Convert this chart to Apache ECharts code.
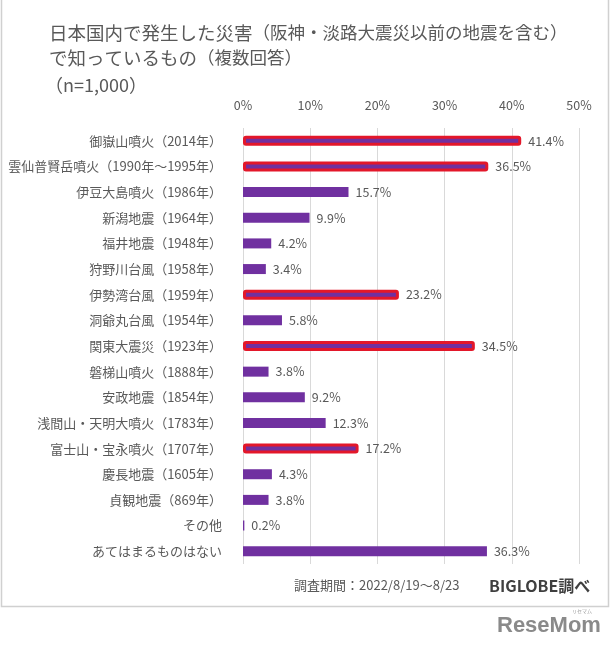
<!DOCTYPE html>
<html><head><meta charset="utf-8">
<script src="https://cdn.jsdelivr.net/npm/echarts@6/dist/echarts.min.js"></script>
<style>html,body{margin:0;padding:0;background:#fff}#c{width:610px;height:650px}</style>
</head><body><div id="c"></div>
<script>
const categories = ['御嶽山噴火（2014年）','雲仙普賢岳噴火（1990年～1995年）','伊豆大島噴火（1986年）','新潟地震（1964年）','福井地震（1948年）','狩野川台風（1958年）','伊勢湾台風（1959年）','洞爺丸台風（1954年）','関東大震災（1923年）','磐梯山噴火（1888年）','安政地震（1854年）','浅間山・天明大噴火（1783年）','富士山・宝永噴火（1707年）','慶長地震（1605年）','貞観地震（869年）','その他','あてはまるものはない'];
const values = [41.4,36.5,15.7,9.9,4.2,3.4,23.2,5.8,34.5,3.8,9.2,12.3,17.2,4.3,3.8,0.2,36.3];
const highlighted = ['御嶽山噴火（2014年）','雲仙普賢岳噴火（1990年～1995年）','伊勢湾台風（1959年）','関東大震災（1923年）','富士山・宝永噴火（1707年）'];
const xTicks = [0,10,20,30,40,50];

const font = '"Noto Sans CJK JP","Noto Sans",sans-serif';
const grey = '#595959';
const chart = echarts.init(document.getElementById('c'), null, {renderer:'canvas'});
chart.setOption({
  backgroundColor:'#fff',
  animation:false,
  textStyle:{fontFamily:font},
  title:{
    left:44, top:15,
    text:'{a|日本国内で発生した災害}{b|（阪神・淡路大震災以前の地震を含む）}\n{a|で知っているもの}{b|（複数回答）}',
    textStyle:{
      fontWeight:'normal',
      rich:{
        a:{fontSize:18.5,color:grey,fontFamily:font,lineHeight:25,fontWeight:'normal'},
        b:{fontSize:17.5,color:grey,fontFamily:font,lineHeight:25,fontWeight:'normal'}
      }
    }
  },
  grid:{left:243,right:31,top:128,height:436,containLabel:false},
  xAxis:{
    type:'value', position:'top', min:xTicks[0], max:xTicks[xTicks.length-1], interval:10,
    axisLine:{show:false}, axisTick:{show:false},
    splitLine:{show:true,lineStyle:{color:'#d9d9d9',width:1}},
    axisLabel:{formatter:'{value}%',color:grey,fontSize:12.5,margin:16,fontFamily:font}
  },
  yAxis:{
    type:'category', data:categories, inverse:true,
    axisLine:{show:false}, axisTick:{show:false},
    axisLabel:{color:grey,fontSize:13,margin:21,fontFamily:font}
  },
  series:[{
    type:'bar', barWidth:10,
    data: values.map((v,i)=>{
      const hl = highlighted.includes(categories[i]);
      return {value:v, itemStyle: hl ? {color:'#7030a0',borderColor:'#e3172a',borderWidth:3,borderRadius:1.5} : {color:'#7030a0'}};
    }),
    label:{show:true,position:'right',distance:7,formatter:p=>p.value.toFixed(1)+'%',color:grey,fontSize:12.5,fontFamily:font}
  }],
  graphic:[
    {type:'rect',shape:{x:1.5,y:-5,width:607,height:611.5},style:{fill:'none',stroke:'#d0d0d0',lineWidth:1.5},silent:true},
    {type:'text',left:45,top:76,style:{text:'（n=1,000）',fill:grey,fontSize:18,fontFamily:font}},
    {type:'text',left:294,top:579,style:{text:'調査期間：2022/8/19～8/23',fill:grey,fontSize:13,fontFamily:font}},
    {type:'text',left:489,top:578,style:{text:'BIGLOBE調べ',fill:'#3f3f3f',fontSize:16,fontWeight:'bold',fontFamily:font}},
    {type:'text',left:497,top:615,style:{text:'ReseMom',fill:'#8a8a8a',fontSize:22,fontWeight:'bold',fontFamily:'"Liberation Sans",Arial,sans-serif'}},
    {type:'text',left:572,top:609,style:{text:'リセマム',fill:'#9a9a9a',fontSize:5,fontFamily:font}}
  ]
});
</script></body></html>
